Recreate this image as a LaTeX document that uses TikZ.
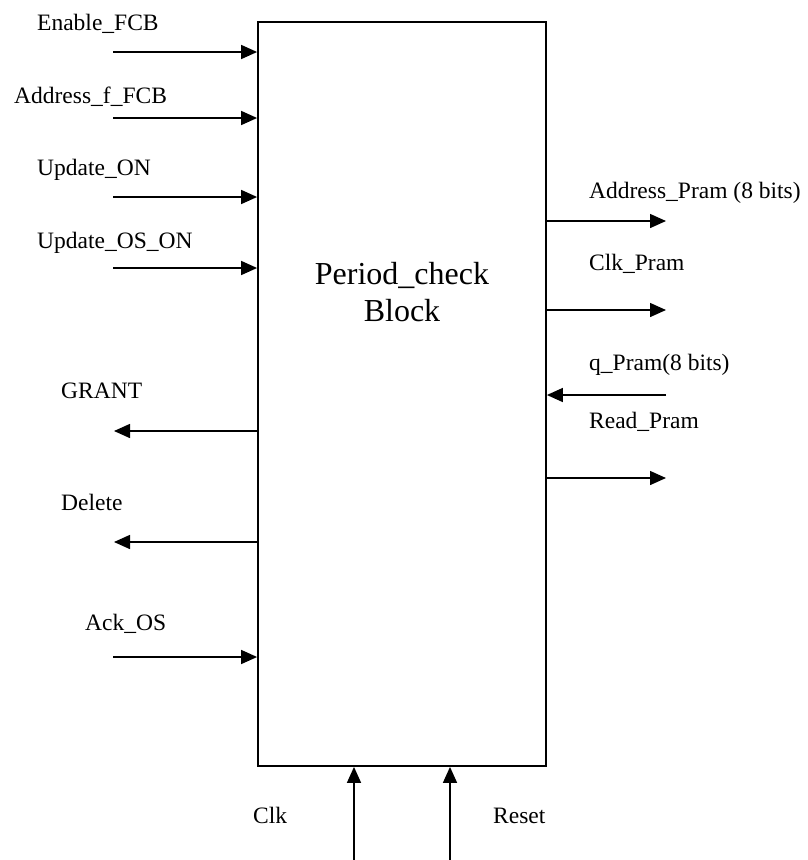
\documentclass[tikz,border=0pt]{standalone}
\usepackage{fontspec}
\setmainfont{Liberation Serif}
\usetikzlibrary{arrows.meta}

\begin{document}
\begin{tikzpicture}[x=1pt,y=-1pt,
  sig/.style={line width=1.5pt,-{Triangle[length=16pt,width=14pt]}},
  lbl/.style={anchor=base west,inner sep=0pt,font=\fontsize{23.5}{28}\selectfont}]
\useasboundingbox (0,0) rectangle (808,860);
% % Block
 \node[draw,line width=1.8pt,minimum width=288pt,minimum height=744pt,inner sep=0pt] (blk) at (402,394){};
 \node[align=center,font=\fontsize{32}{37}\selectfont] (title) at (402,292) {Period\_check\\Block};
% % Free ends
 \coordinate (enin) at (113,52);
 \coordinate (adin) at (113,118);
 \coordinate (upin) at (113,197);
 \coordinate (osin) at (113,268);
 \coordinate (grout) at (114,431);
 \coordinate (delout) at (114,542);
 \coordinate (ackin) at (113,657);
 \coordinate (apout) at (666,221);
 \coordinate (cpout) at (666,310);
 \coordinate (qpin) at (666,395);
 \coordinate (rpout) at (666,478);
 \coordinate (clkin) at (354,860);
 \coordinate (rstin) at (450,860);
% % Labels
 \node[lbl] (enl) at (37,30) {Enable\_FCB};
 \node[lbl] (adl) at (14,103) {Address\_f\_FCB};
 \node[lbl] (upl) at (37,175) {Update\_ON};
 \node[lbl] (osl) at (37,248) {Update\_OS\_ON};
 \node[lbl] (grl) at (61,398) {GRANT};
 \node[lbl] (dell) at (61,510) {Delete};
 \node[lbl] (ackl) at (85,630) {Ack\_OS};
 \node[lbl] (apl) at (589,198) {Address\_Pram (8 bits)};
 \node[lbl] (cpl) at (589,270) {Clk\_Pram};
 \node[lbl] (qpl) at (589,370) {q\_Pram(8 bits)};
 \node[lbl] (rpl) at (589,428) {Read\_Pram};
 \node[lbl] (clkl) at (253,823) {Clk};
 \node[lbl] (rstl) at (493,823) {Reset};
% % Signals
 \draw[sig] (enin) -- (blk.west |- enin);
 \draw[sig] (adin) -- (blk.west |- adin);
 \draw[sig] (upin) -- (blk.west |- upin);
 \draw[sig] (osin) -- (blk.west |- osin);
 \draw[sig] (blk.west |- grout) -- (grout);
 \draw[sig] (blk.west |- delout) -- (delout);
 \draw[sig] (ackin) -- (blk.west |- ackin);
 \draw[sig] (blk.east |- apout) -- (apout);
 \draw[sig] (blk.east |- cpout) -- (cpout);
 \draw[sig] (qpin) -- (blk.east |- qpin);
 \draw[sig] (blk.east |- rpout) -- (rpout);
 \draw[sig] (clkin) -- (blk.south -| clkin);
 \draw[sig] (rstin) -- (blk.south -| rstin);
\end{tikzpicture}
\end{document}
